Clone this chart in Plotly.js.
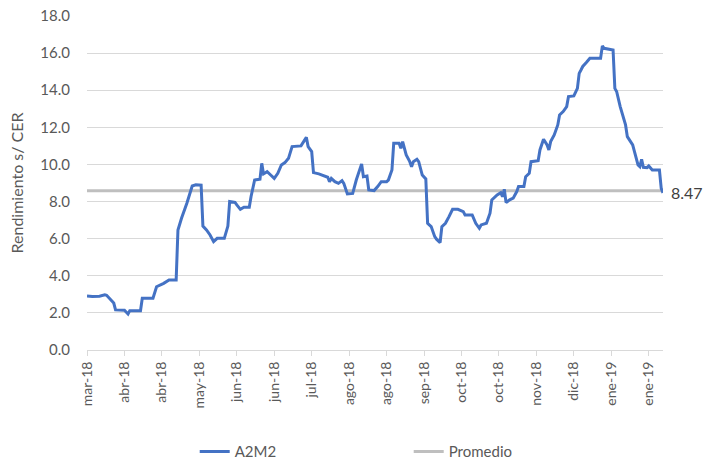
<!DOCTYPE html>
<html>
<head>
<meta charset="utf-8">
<script src="https://cdn.plot.ly/plotly-3.0.1.min.js"></script>
<style>html,body{margin:0;padding:0;background:#fff;}</style>
</head>
<body>
<div id="chart" style="width:705px;height:465px;"></div>
<script>
const dates = [
"2018-03-14","2018-03-17","2018-03-21","2018-03-24","2018-03-25","2018-03-28","2018-03-29","2018-03-30",
"2018-04-04","2018-04-06","2018-04-07","2018-04-13","2018-04-14","2018-04-20","2018-04-22","2018-04-26","2018-04-29",
"2018-05-03","2018-05-04","2018-05-06","2018-05-08","2018-05-09","2018-05-12","2018-05-14","2018-05-17","2018-05-18",
"2018-05-20","2018-05-22","2018-05-24","2018-05-26","2018-05-30",
"2018-06-01","2018-06-02","2018-06-05","2018-06-06","2018-06-08","2018-06-10","2018-06-13","2018-06-14","2018-06-16",
"2018-06-19","2018-06-20","2018-06-21","2018-06-23","2018-06-25","2018-06-27","2018-06-29",
"2018-07-01","2018-07-03","2018-07-05","2018-07-07","2018-07-12","2018-07-15","2018-07-16","2018-07-18","2018-07-19",
"2018-07-22","2018-07-25","2018-07-27","2018-07-28","2018-07-29","2018-07-31",
"2018-08-02","2018-08-04","2018-08-05","2018-08-07","2018-08-10","2018-08-12","2018-08-14","2018-08-15","2018-08-16",
"2018-08-18","2018-08-19","2018-08-22","2018-08-24","2018-08-26","2018-08-29","2018-08-30",
"2018-09-01","2018-09-02","2018-09-05","2018-09-06","2018-09-07","2018-09-09","2018-09-11","2018-09-12","2018-09-13",
"2018-09-15","2018-09-16","2018-09-18","2018-09-20","2018-09-21","2018-09-23","2018-09-25","2018-09-26","2018-09-28","2018-09-29",
"2018-10-01","2018-10-03","2018-10-05","2018-10-08","2018-10-11","2018-10-12","2018-10-16","2018-10-18","2018-10-20",
"2018-10-21","2018-10-24","2018-10-26","2018-10-27","2018-10-30",
"2018-11-01","2018-11-02","2018-11-03","2018-11-04","2018-11-06","2018-11-08","2018-11-10","2018-11-11","2018-11-14",
"2018-11-15","2018-11-17","2018-11-18","2018-11-22","2018-11-23","2018-11-25","2018-11-27","2018-11-28","2018-11-29",
"2018-12-01","2018-12-03","2018-12-04","2018-12-06","2018-12-08","2018-12-09","2018-12-12","2018-12-14","2018-12-15",
"2018-12-16","2018-12-17","2018-12-19","2018-12-21","2018-12-27","2018-12-28","2018-12-29",
"2019-01-03","2019-01-04","2019-01-05","2019-01-07","2019-01-09","2019-01-10","2019-01-11","2019-01-14","2019-01-15",
"2019-01-17","2019-01-18","2019-01-19","2019-01-20","2019-01-22","2019-01-23","2019-01-25","2019-01-29","2019-01-30","2019-01-31"
];
const a2m2 = [
2.91,2.88,2.90,2.97,2.95,2.60,2.53,2.16,
2.14,1.94,2.12,2.12,2.79,2.79,3.41,3.59,3.77,
3.77,6.47,7.10,7.73,7.91,8.84,8.90,8.88,6.68,
6.47,6.20,5.84,6.02,6.02,
6.68,8.00,7.95,7.82,7.58,7.69,7.69,8.27,9.16,
9.20,10.06,9.49,9.61,9.43,9.25,9.52,
9.97,10.10,10.33,10.96,11.00,11.46,10.96,10.69,9.56,
9.49,9.38,9.31,9.07,9.25,9.07,
8.98,9.13,8.98,8.41,8.44,9.16,9.79,10.03,9.34,
9.38,8.63,8.59,8.81,9.07,9.07,9.16,
9.70,11.14,11.14,10.87,11.23,10.51,10.15,9.88,10.15,
10.28,10.15,9.43,9.22,6.83,6.65,6.11,5.97,5.79,6.65,
6.83,7.19,7.58,7.58,7.46,7.28,7.28,6.83,6.56,
6.74,6.83,7.37,8.09,8.36,
8.48,8.27,8.66,7.94,8.09,8.18,8.54,8.81,8.81,
9.34,9.52,10.15,10.20,10.78,11.36,11.05,10.78,11.23,
11.59,12.13,12.67,12.85,13.12,13.66,13.69,14.10,14.91,
15.09,15.28,15.49,15.72,15.72,16.39,16.26,
16.17,14.10,13.93,13.12,12.40,12.13,11.50,11.05,10.69,
9.97,9.88,10.28,9.84,9.83,9.92,9.70,9.70,8.71,8.47
];
const promedio = 8.58;
const tickDates = ["2018-03-14","2018-04-04","2018-04-25","2018-05-16","2018-06-06","2018-06-27","2018-07-18","2018-08-08",
"2018-08-29","2018-09-19","2018-10-10","2018-10-31","2018-11-21","2018-12-12","2019-01-02","2019-01-23"];
const tickLabels = ["mar-18","abr-18","abr-18","may-18","jun-18","jun-18","jul-18","ago-18",
"ago-18","sep-18","oct-18","oct-18","nov-18","dic-18","ene-19","ene-19"];

const firstDate = dates[0], lastDate = dates[dates.length-1];
const lastVal = a2m2[a2m2.length-1];
const FONT = "Lato, 'Open Sans', sans-serif";

const traces = [
  {x: [firstDate, lastDate], y: [promedio, promedio], type: "scatter", mode: "lines", name: "Promedio",
   line: {color: "#BFBFBF", width: 3}},
  {x: dates, y: a2m2, type: "scatter", mode: "lines", name: "A2M2",
   line: {color: "#4472C4", width: 3}, cliponaxis: false}
];

const layout = {
  width: 705, height: 465,
  margin: {l: 87, r: 42, t: 16, b: 115, autoexpand: false},
  paper_bgcolor: "#fff", plot_bgcolor: "#fff",
  font: {family: FONT, color: "#595959", size: 14},
  showlegend: true,
  legend: {orientation: "h", x: 0.187, xanchor: "left", y: -0.305, yanchor: "middle",
           traceorder: "reversed", font: {size: 15, color: "#595959"},
           entrywidth: 169, entrywidthmode: "pixels", itemwidth: 30},
  xaxis: {type: "date", range: [firstDate, lastDate], tickmode: "array",
          tickvals: tickDates, ticktext: tickLabels, tickangle: -90,
          ticks: "outside", ticklen: 5, tickcolor: "#D9D9D9",
          showline: true, linecolor: "#D9D9D9", linewidth: 1,
          showgrid: false, zeroline: false, automargin: false,
          tickfont: {size: 14, color: "#595959"}},
  yaxis: {range: [0, 18], dtick: 2, tick0: 0, tickformat: ".1f",
          showgrid: true, gridcolor: "#D9D9D9", gridwidth: 1,
          showline: false, zeroline: false, ticks: "", ticklabelstandoff: 16,
          automargin: false,
          tickfont: {size: 15, color: "#595959"},
          title: {text: "Rendimiento s/ CER", font: {size: 16, color: "#595959"}, standoff: 12}},
  annotations: [{x: lastDate, y: lastVal, xref: "x", yref: "y", text: lastVal.toFixed(2),
                 showarrow: false, xanchor: "left", xshift: 6, yshift: 0,
                 font: {size: 16, color: "#404040"}}]
};
Plotly.newPlot("chart", traces, layout, {displayModeBar: false, staticPlot: true});
</script>
</body>
</html>
